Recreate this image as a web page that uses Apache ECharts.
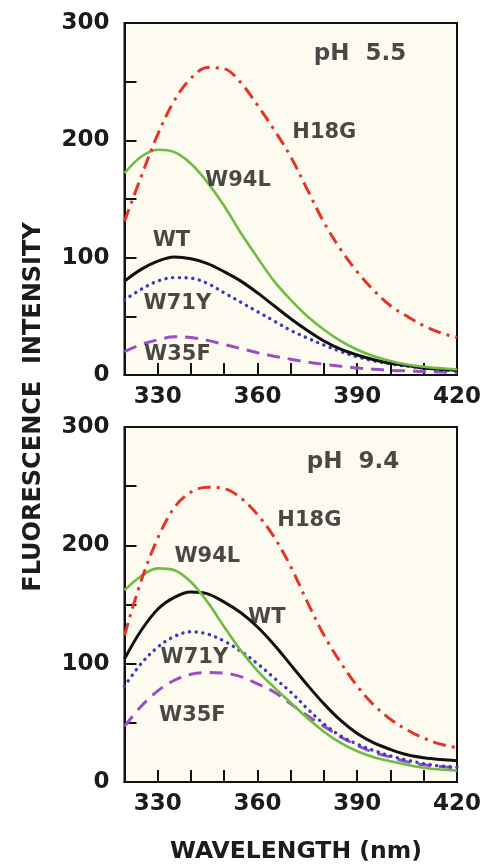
<!DOCTYPE html>
<html><head><meta charset="utf-8">
<script src="https://cdn.jsdelivr.net/npm/echarts/dist/echarts.min.js"></script>
<style>html,body{margin:0;padding:0;background:#fff}#c{width:484px;height:865px}</style>
</head><body><div id="c"></div>
<script>
// ---- data ----
const wavelengths = [320,325,330,335,340,345,350,355,360,365,370,375,380,385,390,395,400,405,410,415,420];
const seriesNames = ['H18G','W94L','WT','W71Y','W35F'];
// pH 5.5 (top panel)
const h18g_55 = [131,169,205,234,253,262,261,249,230,209,186,158,130,107,88,72,59,50,42,36,32];
const w94l_55 = [172,186,192,190,180,164,144,121,100,80,64,50,38.5,29,21.5,16,12,9,7,5.7,4.7];
const wt_55   = [80,90,97,100.5,99,95,88,80,70,59,48,38,29,22,17,13,10,8,6,5,4];
const w71y_55 = [64,73,80,83,82.5,78,70,62,54,46,38,31.5,25.5,20,15.5,12,9.5,7.5,6,4.5,3.5];
const w35f_55 = [20,26,30,32.5,32,29.5,26,22.5,19,16,13.5,11,9,7.5,6,5,4,3.5,3,2.5,2];
// pH 9.4 (bottom panel)
const h18g_94 = [124,170,206,232,245,249,248,240,226,207,182,152,124,101,81,65,53,44,37,32,29];
const w94l_94 = [162,174,180.5,179,169,152,131,111,94,80,67,54,42.5,33,26,21,17.5,14.5,12,10.5,9.6];
const wt_94   = [104,128,146,156,160.5,159,152,143,131,116,99,82,66,52,41,33,27.5,23,20.5,19,18];
const w71y_94 = [81,100,114,123,127,125,119,110.5,100,88,76,62,49,39,32,26.5,22,18.5,15.5,13.5,12.5];
const w35f_94 = [47,64,77,86,91,92.5,92,89,83,76,66,56,47,38,31,25,21,17,14.5,13,12];
// panel titles and curve annotations (anchor in data units)
const panelTitles = ['pH  5.5','pH  9.4'];
const titleAnchors = [[390.8,273.7],[388.7,270.5]];
const annotAnchors55 = [[380.1,206.3],[354.1,165.4],[334.1,114.2],[335.9,60.5],[335.9,17.1]];
const annotAnchors94 = [[375.6,220.6],[344.9,190.2],[362.8,138.6],[341.0,104.8],[340.4,55.8]];
const xTickLabels = [330,360,390,420];
const yTickLabels = [0,100,200,300];

// ---- styles ----
const FONT = 'DejaVu Sans';
const INK = '#1c1c1c';
const styles = [
  {color:'#e5332a', width:3, type:[13,6,3,6], cap:'butt'},
  {color:'#6dbd42', width:2.6, type:'solid', cap:'butt'},
  {color:'#111111', width:3, type:'solid', cap:'butt'},
  {color:'#3a3ac0', width:3.4, type:[0.1,6.6], cap:'round'},
  {color:'#9b4fc2', width:3, type:[13,8], cap:'butt'}
];
const panels = [
  {data:[h18g_55,w94l_55,wt_55,w71y_55,w35f_55], annots:annotAnchors55},
  {data:[h18g_94,w94l_94,wt_94,w71y_94,w35f_94], annots:annotAnchors94}
];
const gridBoxes = [
  {left:124.5, top:23, width:335, height:352},
  {left:124.5, top:427, width:335, height:355}
];

const chart = echarts.init(document.getElementById('c'), null, {renderer:'canvas'});
const grid = [], xAxis = [], yAxis = [], series = [];
panels.forEach((p, i) => {
  grid.push(Object.assign({show:true, backgroundColor:'#fdfbef', borderColor:'#111', borderWidth:2}, gridBoxes[i]));
  xAxis.push({
    gridIndex:i, type:'value', min:320, max:420, interval:10,
    axisLine:{show:true, onZero:false, lineStyle:{color:'#111', width:2}},
    axisTick:{show:true, inside:true, length:12, lineStyle:{color:'#111', width:2}},
    axisLabel:{formatter:v => xTickLabels.includes(v) ? String(v) : '', fontSize:23, fontWeight:'bold', color:INK, fontFamily:FONT, margin:11},
    splitLine:{show:false}
  });
  yAxis.push({
    gridIndex:i, type:'value', min:0, max:300, interval:50,
    axisLine:{show:true, onZero:false, lineStyle:{color:'#111', width:2}},
    axisTick:{show:true, inside:true, length:12, lineStyle:{color:'#111', width:2}},
    axisLabel:{formatter:v => yTickLabels.includes(v) ? String(v) : '', fontSize:23, fontWeight:'bold', color:INK, fontFamily:FONT, margin:15},
    splitLine:{show:false}
  });
  p.data.forEach((arr, k) => {
    series.push({
      type:'line', name:seriesNames[k], xAxisIndex:i, yAxisIndex:i,
      data: wavelengths.map((w, j) => [w, arr[j]]),
      showSymbol:false, symbol:'none', smooth:0.35, silent:true, animation:false,
      lineStyle:{color:styles[k].color, width:styles[k].width, type:styles[k].type, cap:styles[k].cap},
      z: 5 - k
    });
  });
  const labelData = seriesNames.map((n, k) => ({name:n, value:p.annots[k]}));
  series.push({
    type:'scatter', xAxisIndex:i, yAxisIndex:i, symbolSize:0, silent:true, animation:false,
    data: labelData,
    label:{show:true, position:[0,0], align:'center', verticalAlign:'middle', formatter:'{b}', fontSize:21, fontWeight:'bold', color:INK, fontFamily:FONT},
    z:10
  });
  series.push({
    type:'scatter', xAxisIndex:i, yAxisIndex:i, symbolSize:0, silent:true, animation:false,
    data:[{name:panelTitles[i], value:titleAnchors[i]}],
    label:{show:true, position:[0,0], align:'center', verticalAlign:'middle', formatter:'{b}', fontSize:23, fontWeight:'bold', color:INK, fontFamily:FONT},
    z:10
  });
});

chart.setOption({
  animation:false,
  backgroundColor:'#ffffff',
  textStyle:{fontFamily:FONT},
  grid, xAxis, yAxis, series,
  graphic:[
    {type:'text', x:34, y:407, rotation:Math.PI/2,
     style:{text:'FLUORESCENCE  INTENSITY', font:'bold 24px "DejaVu Sans"', fill:INK, align:'center', verticalAlign:'middle', textAlign:'center', textVerticalAlign:'middle'}},
    {type:'text', x:296, y:852,
     style:{text:'WAVELENGTH (nm)', font:'bold 23.5px "DejaVu Sans"', fill:INK, align:'center', verticalAlign:'middle', textAlign:'center', textVerticalAlign:'middle'}}
  ]
});
</script></body></html>
